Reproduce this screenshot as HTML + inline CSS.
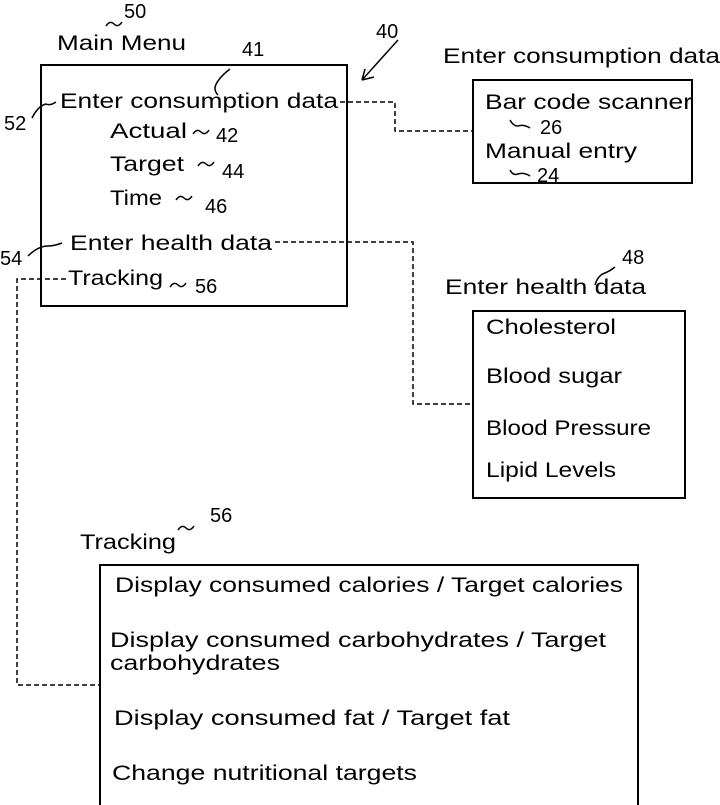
<!DOCTYPE html>
<html><head><style>html,body{margin:0;padding:0;background:#fff}svg{display:block}</style></head>
<body>
<svg width="720" height="805" viewBox="0 0 720 805" xmlns="http://www.w3.org/2000/svg" font-family="Liberation Sans, sans-serif" font-size="21" fill="#000">
<g fill="none" stroke="#000" stroke-width="2">
<rect x="41" y="65" width="306" height="241"/>
<rect x="473" y="80" width="219" height="103"/>
<rect x="473" y="311" width="212" height="187"/>
<rect x="100" y="565" width="538" height="245"/>
</g>
<g fill="none" stroke="#000" stroke-width="1.5" stroke-dasharray="5,3">
<polyline points="340,102 395,102 395,131 473,131"/>
<polyline points="275,242 413,242 413,404 473,404"/>
<polyline points="66,279 17,279 17,685 100,685"/>
</g>
<g fill="none" stroke="#000" stroke-width="1.5">
<path d="M106,26 q4,-6 8,-2 q4,4 8,-2"/>
<path d="M218,95 q-6,-6 0,-14 q4,-6 12,-12"/>
<path d="M32,118 q6,-12 14,-14 q4,2 10,-2"/>
<path d="M193,134 q4,-6 8,-2 q4,4 8,-2"/>
<path d="M198,166 q4,-6 8,-2 q4,4 8,-2"/>
<path d="M176,200 q4,-6 8,-2 q4,4 8,-2"/>
<path d="M28,256 q10,-10 20,-10 q6,0 14,-3"/>
<path d="M170,287 q4,-6 8,-2 q4,4 8,-2"/>
<path d="M398,40 l-36,40 M362,80 l12,-3 M362,80 l3,-11"/>
<path d="M510,120 q3,6 8,6 q6,-2 12,2"/>
<path d="M510,170 q3,6 8,4 q6,-2 12,2"/>
<path d="M595,285 q3,-10 10,-12 q5,-2 10,-6"/>
<path d="M178,530 q4,-6 8,-2 q4,4 8,-2"/>
</g>
<g font-family="Liberation Sans, sans-serif">
<text x="57" y="50" textLength="129" lengthAdjust="spacingAndGlyphs">Main Menu</text>
<text x="60" y="108" textLength="278" lengthAdjust="spacingAndGlyphs">Enter consumption data</text>
<text x="110" y="138" textLength="77" lengthAdjust="spacingAndGlyphs">Actual</text>
<text x="110" y="171" textLength="74" lengthAdjust="spacingAndGlyphs">Target</text>
<text x="110" y="205" textLength="52" lengthAdjust="spacingAndGlyphs">Time</text>
<text x="70" y="250" textLength="202" lengthAdjust="spacingAndGlyphs">Enter health data</text>
<text x="68" y="285" textLength="95" lengthAdjust="spacingAndGlyphs">Tracking</text>
<text x="443" y="63" textLength="277" lengthAdjust="spacingAndGlyphs">Enter consumption data</text>
<text x="485" y="109" textLength="207" lengthAdjust="spacingAndGlyphs">Bar code scanner</text>
<text x="485" y="158" textLength="152" lengthAdjust="spacingAndGlyphs">Manual entry</text>
<text x="445" y="294" textLength="201" lengthAdjust="spacingAndGlyphs">Enter health data</text>
<text x="486" y="334" textLength="130" lengthAdjust="spacingAndGlyphs">Cholesterol</text>
<text x="486" y="383" textLength="136" lengthAdjust="spacingAndGlyphs">Blood sugar</text>
<text x="486" y="435" textLength="165" lengthAdjust="spacingAndGlyphs">Blood Pressure</text>
<text x="486" y="477" textLength="130" lengthAdjust="spacingAndGlyphs">Lipid Levels</text>
<text x="80" y="549" textLength="96" lengthAdjust="spacingAndGlyphs">Tracking</text>
<text x="115" y="592" textLength="508" lengthAdjust="spacingAndGlyphs">Display consumed calories /  Target calories</text>
<text x="110" y="647" textLength="496" lengthAdjust="spacingAndGlyphs">Display consumed carbohydrates /  Target</text>
<text x="110" y="670" textLength="170" lengthAdjust="spacingAndGlyphs">carbohydrates</text>
<text x="114" y="725" textLength="396" lengthAdjust="spacingAndGlyphs">Display consumed fat /  Target fat</text>
<text x="112" y="780" textLength="305" lengthAdjust="spacingAndGlyphs">Change nutritional targets</text>
</g>
<g font-family="Liberation Sans, sans-serif" font-size="20">
<text x="124" y="18">50</text>
<text x="242" y="56">41</text>
<text x="376" y="38">40</text>
<text x="4" y="130">52</text>
<text x="216" y="142">42</text>
<text x="222" y="178">44</text>
<text x="205" y="213">46</text>
<text x="0" y="265">54</text>
<text x="195" y="293">56</text>
<text x="540" y="134">26</text>
<text x="537" y="182">24</text>
<text x="622" y="264">48</text>
<text x="210" y="522">56</text>
</g>
</svg>
</body></html>
